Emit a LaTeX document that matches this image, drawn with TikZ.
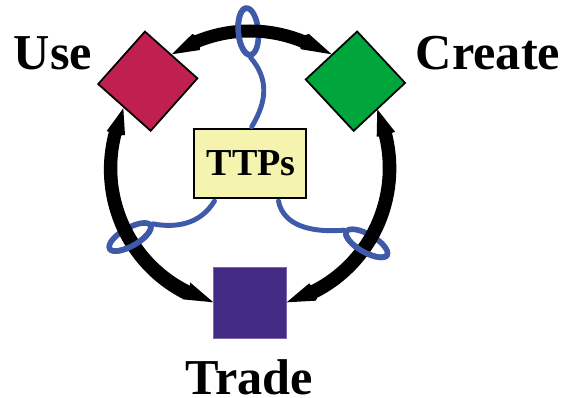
\documentclass[tikz,border=0pt]{standalone}
\usepackage{fontspec}
\setmainfont{Liberation Serif}
\usetikzlibrary{shapes.geometric}
\definecolor{usered}{HTML}{C02050}
\definecolor{creategreen}{HTML}{00A53C}
\definecolor{tradepurple}{HTML}{432A82}
\definecolor{ttpyellow}{HTML}{F4F4AE}
\definecolor{loopblue}{HTML}{3F5AA8}
\tikzset{
  ringarc/.style={fill=black,draw=none},
  loopline/.style={line width=2.8pt,loopblue,line cap=round},
  loopring/.style={line width=3.2pt,draw=loopblue,ellipse,inner sep=0pt,fill=none},
  corner/.style={draw=black,line width=1pt,minimum width=40pt,minimum height=40pt,inner sep=0pt},
  lab/.style={font=\bfseries\fontsize{28.6pt}{30pt}\selectfont,inner sep=0pt,anchor=base}
}
\begin{document}
\begin{tikzpicture}[x=0.02cm,y=-0.02cm]
\useasboundingbox (0,0) rectangle (566,398);
\node[corner,fill=usered,rotate=-41.7] (use) at (147.8,81.2) {};
\node[corner,fill=creategreen,rotate=-47] (create) at (355.4,81.2) {};
\node[draw=tradepurple!70!white,line width=.6pt,fill=tradepurple,minimum width=41.5pt,minimum height=40.5pt,inner sep=0pt] (trade) at (250.2,302.8) {};
\node[draw=black,line width=1.2pt,fill=ttpyellow,minimum width=63.5pt,minimum height=39.5pt,inner sep=0pt,font=\bfseries\fontsize{21.7pt}{24pt}\selectfont] (ttps) at (250,163.5) {\hspace{1.5pt}TTPs};
% rings: back layer
\node[loopring,minimum width=11.4pt,minimum height=26.7pt,rotate=5] (ringtop) at (248.3,31.5) {};
\node[loopring,minimum width=26.7pt,minimum height=10.2pt,rotate=30] (ringleft) at (130,237) {};
\node[loopring,minimum width=26.7pt,minimum height=10.2pt,rotate=-30] (ringright) at (366.7,243.3) {};
% arcs with their barbed heads
\coordinate (useA) at (171.7,54.3);
\coordinate (createA) at (331.7,54.3);
\coordinate (useB) at (123.3,108.3);
\coordinate (createB) at (377.3,109.3);
\coordinate (tradeA) at (213.3,302.3);
\coordinate (tradeB) at (286.7,302.3);
\fill[ringarc] (useA) -- (192.3,34)
  -- plot[smooth,samples=24,domain=112:68] ({250+146.5*cos(\x)},{171-146.5*sin(\x)})
  -- (309,34) -- (createA) -- (301,49.3)
  -- plot[smooth,samples=24,domain=68:112] ({250+133.5*cos(\x)},{171-133.5*sin(\x)})
  -- (200,50) -- cycle;
\fill[ringarc] (useB) -- (106.7,131)
  -- plot[smooth,samples=30,domain=164.5:242.5] ({250+(146.5-2*(\x-164.5)/78)*cos(\x)},{171-(146.5-2*(\x-164.5)/78)*sin(\x)})
  -- (182.3,299.3) -- (tradeA) -- (190,282.3)
  -- plot[smooth,samples=30,domain=242.5:164.5] ({250+(133.5-4*(\x-164.5)/78)*cos(\x)},{171-(133.5-4*(\x-164.5)/78)*sin(\x)})
  -- (125,135) -- cycle;
\fill[ringarc] (createB) -- (395,131.7)
  -- plot[smooth,samples=30,domain=15:-62] ({250+(147-3.5*(15-\x)/77)*cos(\x)},{171-(147-3.5*(15-\x)/77)*sin(\x)})
  -- (315.7,300.7) -- (tradeB) -- (309.3,283.3)
  -- plot[smooth,samples=30,domain=-62:15] ({250+(133.5-4*(15-\x)/77)*cos(\x)},{171-(133.5-4*(15-\x)/77)*sin(\x)})
  -- (376.7,136.7) -- cycle;
% rings: front halves
\begin{scope}
\clip (220,0) -- (246,0) -- (251,65) -- (220,65) -- cycle;
\node[loopring,minimum width=11.4pt,minimum height=26.7pt,rotate=5] (ringtopfront) at (ringtop) {};
\end{scope}
\begin{scope}
\clip (95,259.7) -- (165,219.3) -- (165,275) -- (95,275) -- cycle;
\node[loopring,minimum width=26.7pt,minimum height=10.2pt,rotate=30] (ringleftfront) at (ringleft) {};
\end{scope}
\begin{scope}
\clip (335,225) -- (400,262.5) -- (400,280) -- (335,280) -- cycle;
\node[loopring,minimum width=26.7pt,minimum height=10.2pt,rotate=-30] (ringrightfront) at (ringright) {};
\end{scope}
% blue links
\coordinate (t1) at (251.7,126.7);
\coordinate (l1) at (214.5,201);
\coordinate (r1) at (278.5,201);
\draw[loopline] (t1) .. controls (268,100) and (268,78) .. (ringtop.south);
\draw[loopline] (l1) .. controls (200,225) and (175,228) .. (ringleft.east);
\draw[loopline] (r1) .. controls (283,225) and (310,233) .. (ringright.west);
\node[lab] (usetxt) at (53,70) {Use};
\node[lab] (createtxt) at (488,70) {Create};
\node[lab] (tradetxt) at (249,394.3) {Trade};
\end{tikzpicture}
\end{document}
